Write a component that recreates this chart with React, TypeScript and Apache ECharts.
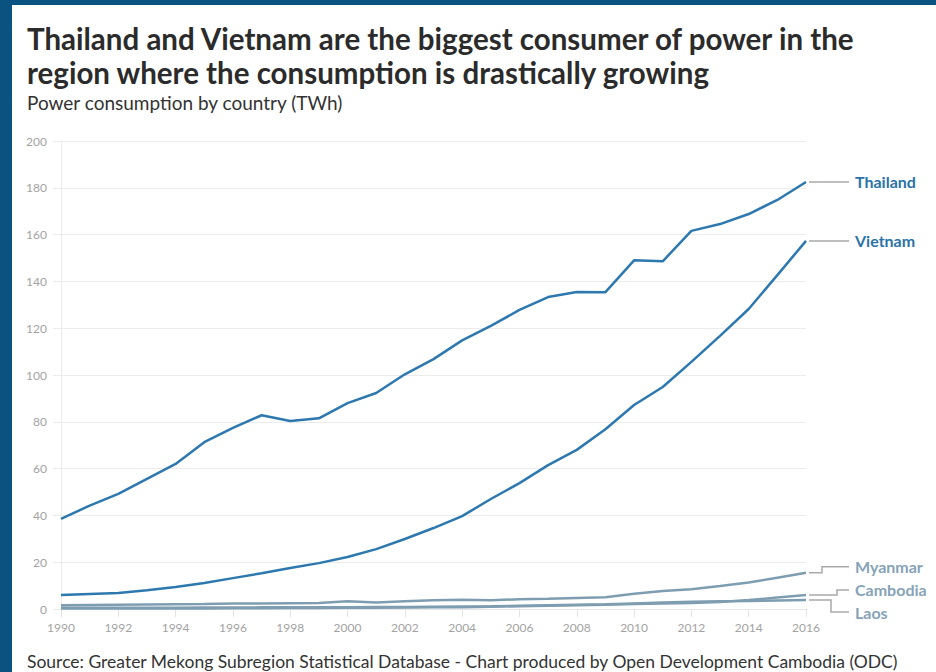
import React, { useEffect, useRef } from "react";
import * as echarts from "echarts";

const years = [
  "1990", "1991", "1992", "1993", "1994", "1995", "1996", "1997", "1998",
  "1999", "2000", "2001", "2002", "2003", "2004", "2005", "2006", "2007",
  "2008", "2009", "2010", "2011", "2012", "2013", "2014", "2015", "2016",
];

const thailand = [
  38.5, 44.2, 49.2, 55.6, 62.0, 71.3, 77.4, 82.8, 80.3, 81.5, 88.0, 92.3,
  100.3, 106.8, 114.8, 121.0, 127.8, 133.3, 135.5, 135.4, 149.0, 148.6,
  161.6, 164.5, 168.8, 174.8, 182.5,
];

const vietnam = [
  6.0, 6.4, 6.8, 8.0, 9.4, 11.1, 13.2, 15.3, 17.5, 19.6, 22.2, 25.6, 29.9,
  34.6, 39.7, 47.0, 53.8, 61.5, 68.0, 76.8, 87.2, 94.9, 105.6, 116.7, 128.2,
  142.7, 157.3,
];

const myanmar = [
  1.6, 1.7, 1.8, 1.9, 2.0, 2.1, 2.3, 2.4, 2.5, 2.6, 3.3, 2.8, 3.3, 3.7, 3.9,
  3.7, 4.2, 4.4, 4.7, 5.0, 6.5, 7.7, 8.4, 9.8, 11.3, 13.4, 15.5,
];

const cambodia = [
  0.2, 0.2, 0.2, 0.2, 0.2, 0.2, 0.3, 0.3, 0.4, 0.4, 0.5, 0.5, 0.6, 0.7, 0.8,
  1.0, 1.2, 1.4, 1.6, 1.8, 2.1, 2.4, 2.6, 3.0, 3.8, 4.9, 6.0,
];

const laos = [
  0.5, 0.5, 0.5, 0.5, 0.5, 0.6, 0.6, 0.7, 0.7, 0.8, 0.8, 0.9, 0.9, 1.0, 1.1,
  1.2, 1.4, 1.6, 1.8, 2.0, 2.4, 2.8, 3.1, 3.3, 3.4, 3.6, 3.8,
];

const titleLines = [
  "Thailand and Vietnam are the biggest consumer of power in the",
  "region where the consumption is drastically growing",
];
const subtitle = "Power consumption by country (TWh)";
const sourceText =
  "Source: Greater Mekong Subregion Statistical Database - Chart produced by Open Development Cambodia (ODC)";

const BLUE = "#2d78ae";
const BLUE_LABEL = "#2a72a8";
const GREY = "#7f9db1";
const GREY_LABEL = "#86a3b7";
const FRAME = "#0a5381";
const FONT = "Lato, 'Noto Sans', sans-serif";

// label layout: vertical offset of the label from the line end, and elbow x offset
const seriesDefs = [
  { name: "Thailand", data: thailand, color: BLUE, labelColor: BLUE_LABEL, dy: 0, elbow: 0 },
  { name: "Vietnam", data: vietnam, color: BLUE, labelColor: BLUE_LABEL, dy: 0, elbow: 0 },
  { name: "Myanmar", data: myanmar, color: GREY, labelColor: GREY_LABEL, dy: -6, elbow: 13 },
  { name: "Cambodia", data: cambodia, color: GREY, labelColor: GREY_LABEL, dy: -5, elbow: 28 },
  { name: "Laos", data: laos, color: GREY, labelColor: GREY_LABEL, dy: 12, elbow: 22 },
];

export default function App() {
  const ref = useRef<HTMLDivElement>(null);

  useEffect(() => {
    if (!ref.current) return;
    const chart = echarts.init(ref.current, null, { renderer: "svg" });

    const drawOrder = [4, 3, 2, 1, 0];

    chart.setOption({
      animation: false,
      backgroundColor: "#ffffff",
      textStyle: { fontFamily: FONT },
      grid: { left: 61, right: 130, top: 141, bottom: 63, containLabel: false },
      xAxis: {
        type: "category",
        data: years,
        boundaryGap: false,
        axisLine: { show: true, lineStyle: { color: "#e6e6e6", width: 1 } },
        axisTick: {
          show: true,
          interval: 1,
          length: 8,
          lineStyle: { color: "#e3e3e3" },
        },
        axisLabel: {
          interval: 1,
          color: "#a3a3a3",
          fontSize: 12,
          margin: 12,
          fontFamily: FONT,
        },
        splitLine: { show: false },
      },
      yAxis: {
        type: "value",
        min: 0,
        max: 200,
        interval: 20,
        axisLine: { show: true, lineStyle: { color: "#ececec", width: 1 } },
        axisTick: { show: true, length: 8, lineStyle: { color: "#ececec" } },
        axisLabel: { color: "#a3a3a3", fontSize: 12, margin: 14, fontFamily: FONT },
        splitLine: { show: true, lineStyle: { color: "#ececec", width: 1 } },
      },
      series: drawOrder.map((i) => ({
        name: seriesDefs[i].name,
        type: "line",
        data: seriesDefs[i].data,
        symbol: "none",
        smooth: false,
        lineStyle: { color: seriesDefs[i].color, width: 2.5 },
        itemStyle: { color: seriesDefs[i].color },
        z: 3 + (4 - i),
      })),
    });

    const last = years.length - 1;
    const graphics: any[] = [
      { type: "rect", shape: { x: 0, y: 0, width: 12, height: 672 }, style: { fill: FRAME }, z: 100 },
      { type: "rect", shape: { x: 0, y: 0, width: 936, height: 5 }, style: { fill: FRAME }, z: 100 },
      {
        type: "text",
        style: {
          text: titleLines[0],
          x: 27,
          y: 38,
          font: `bold 29.5px ${FONT}`,
          fill: "#2b2b2b",
          textVerticalAlign: "middle",
          verticalAlign: "middle",
        },
      },
      {
        type: "text",
        style: {
          text: titleLines[1],
          x: 27,
          y: 72,
          font: `bold 29.5px ${FONT}`,
          fill: "#2b2b2b",
          textVerticalAlign: "middle",
          verticalAlign: "middle",
        },
      },
      {
        type: "text",
        style: {
          text: subtitle,
          x: 27,
          y: 102,
          font: `19px ${FONT}`,
          fill: "#333333",
          textVerticalAlign: "middle",
          verticalAlign: "middle",
        },
      },
      {
        type: "text",
        style: {
          text: sourceText,
          x: 27,
          y: 661,
          font: `17.5px ${FONT}`,
          fill: "#333333",
          textVerticalAlign: "middle",
          verticalAlign: "middle",
        },
      },
    ];

    seriesDefs.forEach((s) => {
      const p = chart.convertToPixel({ xAxisIndex: 0, yAxisIndex: 0 }, [last, s.data[last]]) as number[];
      const x0 = p[0] + 3;
      const y0 = p[1];
      const xEnd = x0 + 40;
      const yl = y0 + s.dy;
      const pts =
        s.dy === 0
          ? [
              [x0, y0],
              [xEnd, y0],
            ]
          : [
              [x0, y0],
              [x0 + s.elbow, y0],
              [x0 + s.elbow, yl],
              [xEnd, yl],
            ];
      graphics.push({
        type: "polyline",
        shape: { points: pts },
        style: { stroke: "#a9a9a9", lineWidth: 1.5, fill: "none" },
        z: 50,
      });
      graphics.push({
        type: "text",
        style: {
          text: s.name,
          x: xEnd + 6,
          y: yl,
          font: `bold 16px ${FONT}`,
          fill: s.labelColor,
          textVerticalAlign: "middle",
          verticalAlign: "middle",
        },
        z: 50,
      });
    });

    chart.setOption({ graphic: graphics });

    return () => {
      chart.dispose();
    };
  }, []);

  return (
    <div
      ref={ref}
      style={{
        position: "absolute",
        left: 0,
        top: 0,
        width: 936,
        height: 672,
        background: "#ffffff",
      }}
    />
  );
}
